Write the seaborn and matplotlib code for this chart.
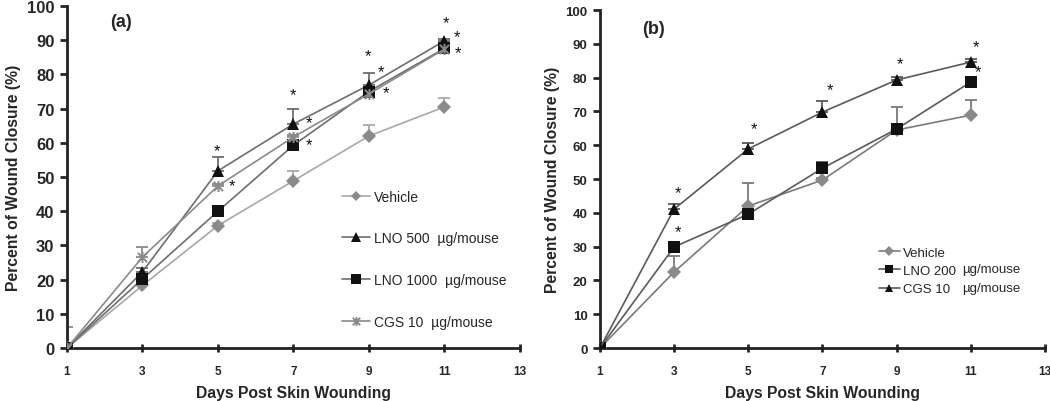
"""
Wound closure over time, panels (a) and (b)
"""

import numpy as np
import pandas as pd
import matplotlib
matplotlib.use("Agg")
import matplotlib.pyplot as plt
from matplotlib.path import Path
import seaborn as sns

sns.set_theme(style="ticks")
plt.rcParams["font.family"] = ["Liberation Sans", "DejaVu Sans"]

days = [1, 3, 5, 7, 9, 11]

# panel (a)
a_vehicle = [0, 18.3, 35.8, 48.9, 62.0, 70.5]
a_vehicle_err = [0, 0.8, 0.8, 2.9, 3.2, 2.5]
a_lno500 = [0, 22.3, 51.8, 65.5, 76.9, 89.8]
a_lno500_err = [0, 1.0, 4.0, 4.4, 3.5, 0.5]
a_lno1000 = [0, 20.2, 40.0, 59.3, 75.0, 87.6]
a_lno1000_err = [0, 0.5, 0.5, 0.5, 0.5, 0.5]
a_cgs = [0, 26.6, 47.4, 61.7, 74.3, 87.4]
a_cgs_err = [6.0, 3.0, 0.5, 0.5, 0.5, 0.5]
a_star_x = [4.97, 5.37, 6.99, 7.41, 7.41, 8.97, 9.32, 9.45, 11.04, 11.33, 11.36]
a_star_y = [57.6, 47.4, 74.0, 66.0, 59.4, 85.4, 80.7, 74.6, 95.0, 91.0, 86.3]

# panel (b)
b_vehicle = [0, 22.5, 42.0, 49.7, 64.5, 68.9]
b_vehicle_err = [0, 4.7, 6.8, 0.5, 6.8, 4.5]
b_lno200 = [0, 29.9, 39.6, 53.2, 64.8, 78.7]
b_lno200_err = [0, 0.5, 0.5, 1.8, 0.5, 0.5]
b_cgs = [0, 41.1, 58.9, 69.8, 79.3, 84.6]
b_cgs_err = [0, 1.4, 1.8, 3.2, 0.8, 0.8]
b_star_x = [3.1, 3.1, 5.15, 7.2, 9.1, 11.15, 11.2]
b_star_y = [46.0, 34.3, 65.0, 76.3, 84.0, 89.3, 81.7]

# Excel-style star marker: an X with a vertical bar
star_marker = Path(
    [(-1, -1), (1, 1), (-1, 1), (1, -1), (0, -1.2), (0, 1.2)],
    [Path.MOVETO, Path.LINETO, Path.MOVETO, Path.LINETO, Path.MOVETO, Path.LINETO],
)

fig = plt.figure(figsize=(10.5, 4.02), dpi=100)
ax_a = fig.add_axes([0.0638, 0.1318, 0.4314, 0.8508])
ax_b = fig.add_axes([0.5714, 0.1318, 0.4238, 0.8408])


def draw_series(ax, y, err, label, line_color, marker, mcolor, msize, mew=0.0):
    df = pd.DataFrame({"day": days, "value": y})
    ax.errorbar(days, y, yerr=[np.zeros(len(err)), err], fmt="none",
                ecolor=line_color, elinewidth=1.3, capsize=4, capthick=1.3, zorder=2)
    sns.lineplot(data=df, x="day", y="value", ax=ax, color=line_color, lw=1.2,
                 marker=marker, markersize=msize, markerfacecolor=mcolor,
                 markeredgecolor=mcolor, markeredgewidth=mew, label=label, zorder=3)


def style_axis(ax, tick_y, tick_x, lab_size):
    ax.set_xlim(1, 13)
    ax.set_ylim(0, 100)
    ax.set_xticks([1, 3, 5, 7, 9, 11, 13])
    ax.set_yticks(range(0, 101, 10))
    sns.despine(ax=ax)
    for s in ["left", "bottom"]:
        ax.spines[s].set_linewidth(2)
        ax.spines[s].set_color("#222222")
    ax.tick_params(axis="y", direction="out", length=5, width=2, labelsize=tick_y, pad=4)
    ax.tick_params(axis="x", direction="inout", length=6, width=2, labelsize=tick_x, pad=9)
    for t in ax.get_xticklabels() + ax.get_yticklabels():
        t.set_fontweight("bold")
    ax.set_xlabel("Days Post Skin Wounding", fontsize=lab_size, fontweight="bold", labelpad=6)
    ax.set_ylabel("Percent of Wound Closure (%)", fontsize=lab_size, fontweight="bold")
    ax.set_facecolor("white")


# ---- panel (a)
draw_series(ax_a, a_vehicle, a_vehicle_err, "Vehicle", "#a8a8a8", "D", "#8a8a8a", 7)
draw_series(ax_a, a_lno500, a_lno500_err, "LNO 500  µg/mouse", "#6e6e6e", "^", "#111111", 9)
draw_series(ax_a, a_lno1000, a_lno1000_err, "LNO 1000  µg/mouse", "#6e6e6e", "s", "#111111", 9)
draw_series(ax_a, a_cgs, a_cgs_err, "CGS 10  µg/mouse", "#8a8a8a", star_marker, "#8a8a8a", 8, 1.4)
for x, y in zip(a_star_x, a_star_y):
    ax_a.text(x, y, "*", fontsize=12, ha="center", va="center", color="#111111")
style_axis(ax_a, 12, 8.5, 11.3)
ax_a.text(0.12, 0.955, "(a)", transform=ax_a.transAxes, fontsize=13, fontweight="bold",
          ha="center", va="center")
ax_a.legend(loc="upper left", bbox_to_anchor=(0.58, 0.50), frameon=False, fontsize=10,
            labelspacing=2.0, handlelength=2.0, handletextpad=0.3, markerscale=0.8)

# ---- panel (b)
draw_series(ax_b, b_vehicle, b_vehicle_err, "Vehicle", "#7a7a7a", "D", "#8a8a8a", 7)
draw_series(ax_b, b_lno200, b_lno200_err, "LNO 200", "#5a5a5a", "s", "#111111", 9)
draw_series(ax_b, b_cgs, b_cgs_err, "CGS 10", "#5a5a5a", "^", "#111111", 9)
for x, y in zip(b_star_x, b_star_y):
    ax_b.text(x, y, "*", fontsize=12, ha="center", va="center", color="#111111")
style_axis(ax_b, 9.5, 8.5, 11.3)
ax_b.text(0.12, 0.945, "(b)", transform=ax_b.transAxes, fontsize=13, fontweight="bold",
          ha="center", va="center")
ax_b.legend(loc="upper left", bbox_to_anchor=(0.6, 0.335), frameon=False, fontsize=9.5,
            labelspacing=0.45, handlelength=1.6, handletextpad=0.2, markerscale=0.7)
ax_b.text(0.814, 0.234, "µg/mouse", transform=ax_b.transAxes, fontsize=9.5, va="center")
ax_b.text(0.814, 0.178, "µg/mouse", transform=ax_b.transAxes, fontsize=9.5, va="center")

fig.savefig("out.png", dpi=100, facecolor="white")
